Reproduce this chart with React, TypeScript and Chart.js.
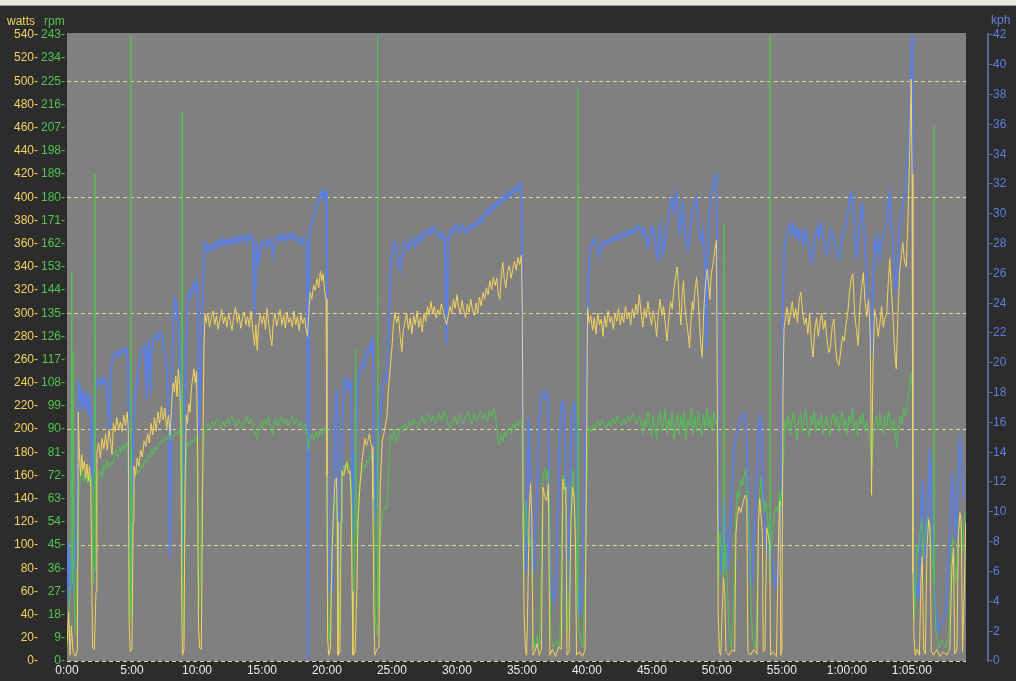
import React, { useEffect, useRef } from "react";
import { Chart, registerables } from "chart.js";

Chart.register(...registerables);

// [seconds, watts]
const WATTS: number[][] = [
  [0,15],[8,42],[14,5],[20,30],[28,8],[40,4],[48,10],[52,215],[56,185],[62,160],[68,178],[74,165],[80,172],[86,158],[92,170],[98,155],[104,168],[110,150],[115,60],[118,12],[126,10],[134,60],[138,180],[146,188],[154,175],[162,192],[170,183],[178,196],[186,182],[194,200],[202,188],[208,178],[214,205],[222,198],[230,210],[238,200],[246,206],[254,198],[262,212],[270,203],[278,215],[283,200],[287,30],[292,8],[300,10],[305,120],[309,168],[316,160],[324,175],[332,168],[340,182],[348,176],[356,190],[364,185],[372,196],[380,188],[388,205],[396,195],[404,210],[412,198],[420,215],[428,205],[436,220],[444,208],[452,218],[460,200],[468,212],[476,195],[484,225],[490,240],[496,232],[502,246],[508,228],[514,252],[520,238],[526,200],[530,40],[533,5],[540,10],[545,150],[550,212],[556,205],[562,222],[568,215],[574,235],[580,244],[586,252],[592,240],[598,250],[603,180],[607,30],[612,12],[620,10],[626,150],[632,270],[637,300],
  [642,292],[650,300],[658,288],[666,296],[674,302],[682,290],[690,298],[698,286],[706,295],[714,303],[722,291],[730,297],[738,288],[746,300],[754,293],[762,285],[770,298],[778,305],[786,292],[794,299],[802,287],[810,296],[818,301],[826,290],[834,297],[842,288],[850,302],[858,285],[866,272],[872,290],[878,268],[884,288],[892,300],[900,291],[908,298],[916,286],[924,304],[932,290],[940,278],[946,272],[952,292],[960,300],[968,289],[976,296],[984,303],[992,290],[1000,298],[1008,287],[1016,301],[1024,292],[1032,296],[1040,288],[1048,302],[1056,290],[1064,297],[1072,285],[1080,299],[1088,291],[1096,296],[1104,286],[1110,280],[1116,300],[1122,318],[1130,312],[1138,324],[1146,320],[1154,330],[1162,322],[1170,336],[1176,328],[1182,334],[1190,318],[1196,312],[1200,160],[1203,20],[1208,5],
  [1216,10],[1223,90],[1230,130],[1237,155],[1244,158],[1248,120],[1251,5],[1260,8],[1265,120],[1269,164],[1278,160],[1285,168],[1292,171],[1299,162],[1306,164],[1312,140],[1316,60],[1320,5],[1330,8],[1338,60],[1343,120],[1352,150],[1361,171],[1368,182],[1375,192],[1382,186],[1389,190],[1396,196],[1402,188],[1408,185],[1412,140],[1416,50],[1421,5],[1430,10],[1440,12],[1446,150],[1455,190],[1465,198],[1477,211],[1484,235],[1491,250],[1500,270],[1507,290],
  [1514,301],[1522,292],[1530,298],[1538,280],[1546,267],[1552,285],[1560,292],[1568,300],[1576,286],[1584,296],[1592,282],[1600,298],[1608,290],[1616,302],[1624,288],[1632,296],[1640,284],[1648,300],[1656,293],[1664,306],[1672,298],[1680,310],[1688,300],[1696,306],[1704,296],[1712,303],[1720,299],[1728,308],[1736,302],[1744,296],[1752,290],[1760,298],[1768,306],[1776,300],[1784,312],[1792,304],[1800,316],[1808,305],[1816,300],[1824,311],[1832,302],[1840,296],[1848,308],[1856,301],[1864,312],[1872,303],[1880,298],[1888,309],[1896,300],[1904,314],[1912,306],[1920,318],[1928,312],[1936,322],[1944,316],[1952,328],[1960,320],[1968,331],[1976,324],[1984,330],[1990,318],[1998,312],[2006,336],[2012,344],[2018,330],[2026,322],[2034,336],[2042,341],[2050,330],[2058,338],[2066,345],[2074,337],[2082,348],[2090,342],[2098,350],[2102,300],[2106,120],[2110,40],[2116,10],[2122,5],
  [2128,60],[2134,130],[2140,153],[2146,120],[2151,5],[2160,8],[2170,15],[2180,5],[2190,10],[2197,150],[2205,142],[2215,138],[2222,153],[2229,5],[2240,10],[2255,4],[2270,12],[2282,10],[2289,157],[2296,148],[2303,150],[2308,5],[2318,8],[2326,120],[2334,150],[2341,140],[2347,105],[2352,5],[2365,8],[2380,4],[2392,10],[2398,174],[2403,305],
  [2410,292],[2418,298],[2426,285],[2434,296],[2442,282],[2450,300],[2458,290],[2466,295],[2474,280],[2482,298],[2490,288],[2498,302],[2506,292],[2514,297],[2522,286],[2530,300],[2538,293],[2546,304],[2554,290],[2562,299],[2570,292],[2578,306],[2586,295],[2594,301],[2602,290],[2610,304],[2618,296],[2626,308],[2634,300],[2642,316],[2650,300],[2658,288],[2666,304],[2674,296],[2682,310],[2690,298],[2698,290],[2706,302],[2714,294],[2722,280],[2730,300],[2738,312],[2746,298],[2754,306],[2762,290],[2770,276],[2778,296],[2786,310],[2794,304],[2802,322],[2810,332],[2816,340],[2822,326],[2828,304],[2834,290],[2840,316],[2846,328],[2852,306],[2858,296],[2866,284],[2874,270],[2880,292],[2886,310],[2892,302],[2898,318],[2906,331],[2914,312],[2920,290],[2926,272],[2932,262],[2938,296],[2944,318],[2950,330],[2956,338],[2962,324],[2968,312],[2974,334],[2980,340],[2986,348],[2992,356],[2998,363],[3003,200],[3006,40],[3012,8],
  [3018,5],[3024,40],[3030,72],[3036,60],[3042,8],[3055,5],[3070,10],[3082,8],[3088,110],[3094,125],[3102,133],[3110,128],[3120,136],[3130,143],[3138,140],[3143,8],[3155,5],[3170,10],[3185,6],[3192,120],[3198,140],[3204,125],[3210,110],[3214,8],[3222,10],[3230,115],[3238,108],[3244,100],[3248,5],[3260,8],[3275,4],[3286,120],[3291,138],[3295,5],[3300,10],[3305,231],[3310,287],
  [3316,295],[3324,305],[3332,290],[3340,300],[3348,310],[3356,296],[3364,304],[3372,292],[3380,312],[3388,318],[3396,300],[3404,290],[3412,296],[3420,282],[3428,300],[3436,275],[3444,262],[3452,286],[3460,296],[3468,280],[3476,292],[3484,300],[3492,286],[3500,294],[3508,278],[3516,266],[3524,270],[3532,288],[3540,295],[3548,270],[3556,258],[3564,255],[3572,268],[3580,280],[3588,276],[3596,290],[3604,300],[3612,318],[3620,330],[3628,334],[3636,300],[3644,286],[3652,272],[3660,305],[3668,322],[3676,335],[3684,310],[3692,297],[3700,312],[3708,280],[3714,143],[3720,250],[3728,303],[3736,296],[3744,280],[3752,290],[3760,306],[3768,288],[3776,296],[3784,300],[3792,330],[3798,347],[3806,318],[3812,300],[3820,270],[3828,252],[3836,300],[3844,337],[3852,350],[3858,361],[3866,345],[3874,340],[3882,380],[3890,439],[3897,502],[3901,420],[3905,76],[3910,20],[3916,5],
  [3925,10],[3935,5],[3942,70],[3948,90],[3954,10],[3962,6],[3970,100],[3978,122],[3984,115],[3990,8],[4000,5],[4015,10],[4030,4],[4045,8],[4060,5],[4075,10],[4085,80],[4092,97],[4098,6],[4108,10],[4115,110],[4122,128],[4128,120],[4134,8],[4142,60],[4149,120],
];

// [seconds, rpm]
const RPM: number[][] = [
  [0,5],[10,20],[18,35],[22,151],[26,30],[29,120],[34,20],[40,10],[46,35],[52,40],[56,65],[62,72],[70,75],[78,70],[86,74],[94,69],[100,73],[108,68],[114,72],[118,40],[124,30],[129,189],[132,35],[138,70],[146,72],[154,74],[162,71],[170,76],[178,74],[186,78],[194,75],[202,77],[210,76],[218,80],[226,82],[234,79],[242,83],[250,81],[258,84],[266,82],[274,85],[282,83],[287,40],[292,15],[295,250],[297,20],[300,40],[305,65],[310,70],[318,72],[326,74],[334,73],[342,76],[350,75],[358,78],[366,77],[374,80],[382,79],[390,82],[398,80],[406,83],[414,82],[422,85],[430,84],[438,86],[446,85],[454,87],[462,86],[470,88],[478,86],[486,88],[494,87],[502,89],[510,88],[518,90],[526,86],[529,40],[531,213],[533,30],[538,10],[545,60],[552,82],[560,85],[568,84],[576,86],[584,85],[592,87],[600,86],[603,60],[607,20],[614,30],[622,60],[628,80],[634,88],[640,90],
  [650,92],[660,90],[670,93],[680,91],[690,94],[700,92],[710,90],[720,93],[730,91],[740,94],[750,92],[760,95],[770,93],[780,91],[790,94],[800,92],[810,90],[820,93],[830,95],[840,92],[850,94],[860,91],[870,88],[878,86],[886,91],[894,93],[902,90],[910,94],[920,92],[930,95],[940,90],[948,88],[956,92],[964,94],[972,91],[980,93],[990,95],[1000,92],[1010,94],[1020,91],[1030,93],[1040,95],[1050,92],[1060,94],[1070,91],[1080,93],[1090,90],[1100,92],[1108,88],[1114,82],[1120,86],[1130,88],[1140,86],[1150,89],[1160,87],[1170,90],[1180,88],[1190,91],[1198,88],[1202,40],[1206,10],
  [1212,8],[1220,30],[1228,52],[1236,60],[1244,64],[1250,20],[1256,10],[1264,50],[1270,72],[1278,76],[1286,74],[1294,78],[1302,75],[1310,72],[1318,55],[1322,15],[1328,40],[1332,121],[1336,60],[1340,40],[1346,62],[1352,70],[1360,73],[1368,76],[1376,75],[1384,78],[1392,77],[1400,80],[1408,78],[1416,70],[1420,40],[1424,15],[1432,10],[1434,250],[1436,20],[1440,40],[1450,52],[1460,58],[1470,60],[1477,59],[1485,75],[1493,88],[1500,86],[1510,90],[1520,85],[1530,88],
  [1540,91],[1550,89],[1560,92],[1570,90],[1580,93],[1590,91],[1600,94],[1610,92],[1620,90],[1630,93],[1640,95],[1650,92],[1660,94],[1670,96],[1680,93],[1690,95],[1700,92],[1710,94],[1720,96],[1730,93],[1740,97],[1750,95],[1760,92],[1770,90],[1780,93],[1790,95],[1800,92],[1810,96],[1820,94],[1830,92],[1840,95],[1850,97],[1860,94],[1870,92],[1880,96],[1890,93],[1900,95],[1910,97],[1920,94],[1930,96],[1940,93],[1950,97],[1960,95],[1970,98],[1980,94],[1988,86],[1996,84],[2004,88],[2012,85],[2020,89],[2028,87],[2036,90],[2044,91],[2052,88],[2060,92],[2068,90],[2076,93],[2084,91],[2092,94],[2100,92],[2104,60],[2108,30],
  [2112,55],[2118,62],[2124,50],[2132,45],[2140,48],[2146,42],[2152,8],[2160,5],[2170,10],[2180,6],[2190,40],[2197,72],[2205,75],[2213,70],[2221,74],[2228,60],[2232,10],[2245,5],[2260,8],[2275,5],[2284,50],[2290,72],[2298,70],[2305,55],[2310,10],[2320,30],[2328,66],[2336,74],[2344,60],[2350,45],[2356,20],[2358,222],[2360,15],[2370,8],[2382,5],[2392,30],[2398,66],[2404,80],[2410,91],
  [2420,89],[2430,92],[2440,90],[2450,93],[2460,91],[2470,94],[2480,92],[2490,90],[2500,93],[2510,91],[2520,94],[2530,92],[2540,95],[2550,93],[2560,91],[2570,94],[2580,92],[2590,95],[2600,93],[2610,96],[2620,94],[2630,92],[2640,95],[2650,93],[2658,88],[2666,94],[2674,91],[2682,97],[2690,92],[2698,87],[2706,95],[2714,90],[2722,86],[2730,94],[2738,97],[2746,89],[2754,93],[2762,98],[2770,88],[2778,94],[2786,90],[2794,97],[2802,86],[2810,93],[2818,96],[2826,88],[2834,95],[2842,90],[2850,97],[2858,86],[2866,94],[2874,91],[2882,98],[2890,88],[2898,95],[2906,89],[2914,97],[2922,92],[2930,87],[2938,96],[2946,90],[2954,98],[2962,91],[2970,95],[2978,89],[2986,97],[2994,92],[3000,94],[3004,60],[3008,30],
  [3014,50],[3020,45],[3026,40],[3030,30],[3032,170],[3034,35],[3040,45],[3048,30],[3056,10],[3066,5],[3078,20],[3086,55],[3094,66],[3102,63],[3110,70],[3118,68],[3126,72],[3134,75],[3140,65],[3146,52],[3152,44],[3158,20],[3166,8],[3178,5],[3188,30],[3194,60],[3202,71],[3210,65],[3218,58],[3226,62],[3234,55],[3240,50],[3244,30],[3245,250],[3246,40],[3252,45],[3262,55],[3272,60],[3282,58],[3290,66],[3296,60],[3302,70],[3308,78],[3314,93],
  [3322,90],[3330,95],[3338,88],[3346,93],[3354,97],[3362,90],[3370,86],[3378,94],[3386,96],[3394,89],[3402,93],[3410,98],[3418,91],[3426,87],[3434,95],[3442,92],[3450,97],[3458,89],[3466,94],[3474,91],[3482,96],[3490,88],[3498,93],[3506,95],[3514,90],[3522,87],[3530,94],[3538,96],[3546,91],[3554,95],[3562,89],[3570,93],[3578,97],[3586,90],[3594,94],[3602,88],[3610,95],[3618,92],[3626,98],[3634,90],[3642,93],[3650,87],[3658,95],[3666,92],[3674,96],[3682,89],[3690,93],[3698,90],[3706,86],[3712,80],[3715,75],[3720,84],[3728,92],[3736,95],[3744,90],[3752,96],[3760,92],[3768,88],[3776,95],[3784,91],[3792,97],[3800,93],[3808,89],[3816,94],[3824,88],[3830,83],[3838,90],[3846,95],[3854,92],[3862,98],[3870,95],[3878,100],[3886,105],[3894,110],[3900,112],[3904,90],[3908,40],[3912,15],
  [3918,30],[3924,45],[3930,42],[3938,50],[3946,55],[3952,40],[3958,48],[3966,52],[3974,56],[3982,50],[3990,45],[3996,38],[4000,30],[4002,208],[4004,25],[4012,10],[4025,5],[4040,8],[4055,5],[4070,10],[4080,35],[4088,48],[4096,40],[4104,30],[4112,45],[4120,55],[4128,50],[4136,42],[4142,55],[4149,58],
];

// [seconds, kph]
const KPH: number[][] = [
  [0,4],[5,8],[10,6],[15,4.5],[20,7],[26,5],[32,8],[38,6],[44,10],[50,15],[54,18.8],[58,17.5],[64,18.4],[70,16.8],[76,17.9],[82,17.0],[88,18.2],[94,17.2],[100,16.5],[106,17.8],[112,15.0],[116,11.4],[122,14],[128,17.6],[134,18.6],[142,18.9],[150,18.5],[158,18.8],[166,19.0],[172,18.6],[178,18.9],[184,18.4],[190,17.0],[196,15.5],[200,18.5],[206,19.8],[212,20.5],[220,20.4],[228,20.7],[236,20.5],[244,20.8],[252,20.6],[260,20.9],[268,20.7],[276,20.9],[282,20.0],[287,10],[292,5.6],[298,8],[305,15],[312,17.4],[320,18.5],[328,19.4],[336,20.2],[344,20.7],[352,20.9],[358,21.2],[364,19.0],[368,17.5],[372,20.8],[380,21.3],[386,18.0],[390,20.5],[398,21.5],[406,21.8],[414,21.9],[422,21.6],[430,22.0],[438,21.8],[446,21.0],[454,20.4],[462,19.5],[470,15.0],[475,7.0],[480,12],[486,20],[492,23.5],[498,24.3],[504,24.0],[510,23.2],[518,22.0],[526,18],[531,6],[536,9],[542,15],[550,21],[556,24],[562,24.6],[568,24.8],[574,24.5],[580,25.0],[586,25.3],[592,24.9],[598,25.5],[604,24.8],[608,15],[612,17],[620,20],[626,24],[632,27],[637,28.1],
  [642,28.0],[650,27.6],[658,27.8],[666,27.5],[674,27.9],[682,27.7],[690,28.1],[698,27.8],[706,28.2],[714,27.9],[722,28.3],[730,28.0],[738,28.2],[746,27.9],[754,28.4],[762,28.1],[770,28.3],[778,28.0],[786,28.4],[794,28.2],[802,28.5],[810,28.2],[818,28.4],[826,28.1],[834,28.5],[842,28.3],[850,28.6],[856,28.4],[860,26.5],[864,23.4],[868,25.0],[872,28.2],[878,27.6],[884,26.7],[890,27.2],[896,27.9],[904,28.1],[912,27.8],[920,28.2],[928,28.0],[936,28.3],[944,27.9],[950,27.2],[956,27.8],[964,28.3],[972,28.5],[980,28.2],[988,28.6],[996,28.3],[1004,28.5],[1012,28.2],[1020,28.6],[1028,28.4],[1036,28.7],[1044,28.3],[1052,28.6],[1060,28.4],[1068,28.1],[1076,28.3],[1084,28.0],[1092,28.4],[1100,28.2],[1106,28.0],[1110,20],[1112,0],[1115,10],[1119,28.6],[1126,29.0],[1134,29.5],[1142,30.0],[1150,30.4],[1158,30.8],[1166,31.1],[1174,31.4],[1180,31.0],[1186,31.5],[1192,31.2],[1197,31.4],[1200,25],[1203,12.2],
  [1208,6],[1216,4.3],[1224,5],[1230,10],[1238,16],[1244,18.2],[1248,17],[1252,8],[1258,5.4],[1264,10],[1272,16],[1280,18.8],[1288,18.4],[1296,18.9],[1304,18.2],[1312,18.6],[1316,14],[1320,8.1],[1326,10],[1334,15],[1343,18.8],[1350,19.2],[1358,19.6],[1366,20.1],[1374,19.8],[1382,20.6],[1390,21.0],[1398,20.7],[1406,21.5],[1412,21.6],[1416,16],[1421,9.5],[1428,12],[1436,15],[1445,16.3],[1455,18],[1465,19],[1477,18.8],[1484,22],[1490,24.5],[1496,26.5],[1502,27.6],[1510,28.0],[1516,28.1],[1522,27.5],[1530,26.6],[1538,26.2],[1544,26.8],[1552,27.7],[1560,28.1],[1568,28.0],[1576,27.6],[1584,27.9],[1592,28.4],[1600,28.1],[1608,27.8],[1616,28.2],[1624,28.5],[1632,28.1],[1640,28.6],[1648,28.8],[1656,28.5],[1664,28.9],[1672,29.0],[1680,28.7],[1688,29.1],[1696,28.8],[1704,28.9],[1712,28.6],[1720,28.4],[1728,28.7],[1736,28.3],[1744,28.5],[1748,25],[1752,21.3],[1756,24],[1760,28.4],[1768,28.8],[1776,29.0],[1784,28.7],[1792,29.1],[1800,29.3],[1808,29.0],[1816,28.8],[1824,29.2],[1832,29.0],[1840,28.7],[1848,28.9],[1856,29.2],[1864,29.0],[1872,29.3],[1880,29.1],[1888,29.4],[1896,29.6],[1904,29.3],[1912,29.7],[1920,29.5],[1928,29.9],[1936,30.2],[1944,30.0],[1952,30.4],[1960,30.2],[1968,30.6],[1976,30.4],[1984,30.8],[1992,30.6],[2000,31.0],[2008,30.8],[2016,31.2],[2024,31.0],[2032,31.4],[2040,31.1],[2048,31.5],[2056,31.3],[2064,31.7],[2072,31.5],[2080,31.9],[2088,31.7],[2094,32.0],[2098,31.6],[2102,25],[2106,10],
  [2110,6.7],[2118,5.9],[2124,10],[2130,16.3],[2136,14],[2142,9],[2148,6.8],[2156,6],[2164,9],[2172,13],[2180,16],[2188,17.7],[2196,18.0],[2204,18.2],[2212,17.6],[2220,17.8],[2226,12],[2232,6],[2240,4.5],[2250,4],[2258,5.5],[2266,10],[2274,15],[2282,17.2],[2290,17.4],[2298,16.5],[2304,10],[2310,4.3],[2318,8],[2326,14],[2334,17.0],[2342,17.3],[2348,16],[2354,12],[2360,6],[2368,3],[2376,4],[2384,8],[2392,14],[2398,20],[2402,23.1],[2408,26],[2414,27.6],
  [2420,27.8],[2428,28.2],[2436,28.3],[2444,28.0],[2452,27.7],[2458,27.2],[2464,27.8],[2472,28.1],[2480,27.9],[2488,28.2],[2496,28.0],[2504,28.3],[2512,28.1],[2520,28.4],[2528,28.2],[2536,28.5],[2544,28.3],[2552,28.6],[2560,28.4],[2568,28.7],[2576,28.5],[2584,28.8],[2592,28.6],[2600,28.9],[2608,28.7],[2616,29.0],[2624,28.8],[2632,29.1],[2640,29.2],[2648,28.9],[2656,28.6],[2664,29.0],[2672,28.4],[2680,27.8],[2688,28.3],[2696,28.9],[2704,29.1],[2712,28.6],[2720,27.5],[2726,27.0],[2732,28.3],[2740,29.2],[2746,28.4],[2752,27.3],[2760,28.0],[2768,29.0],[2776,29.8],[2784,30.5],[2792,31.0],[2800,30.2],[2808,31.0],[2815,31.4],[2822,29.8],[2830,28.5],[2836,29.5],[2842,30.8],[2850,29.4],[2858,28.2],[2866,27.6],[2874,28.3],[2882,29.6],[2890,30.5],[2898,30.8],[2906,31.1],[2912,30.0],[2920,28.5],[2928,28.2],[2936,28.8],[2944,27.0],[2950,21.0],[2956,25.0],[2962,29.5],[2968,30.6],[2974,31.2],[2980,31.8],[2988,32.3],[2994,32.6],[2998,32.7],[3002,26],[3006,12.2],
  [3012,8],[3020,5.9],[3026,8],[3034,11],[3040,9],[3046,6],[3054,7],[3062,9],[3070,12],[3080,14.2],[3090,15.2],[3100,15.8],[3110,16.2],[3120,16.6],[3130,16.4],[3138,15],[3146,10],[3152,6],[3160,5],[3168,7],[3176,10],[3184,13],[3192,15.5],[3200,16.6],[3206,15],[3212,12],[3218,10],[3226,8.1],[3234,7],[3242,9],[3250,8],[3260,6],[3270,5],[3280,6],[3290,7],[3298,12],[3305,24.5],[3312,27.8],
  [3320,28.4],[3328,28.9],[3336,29.3],[3344,28.8],[3352,29.2],[3360,28.5],[3368,29.0],[3376,28.3],[3384,28.8],[3392,28.6],[3400,28.0],[3408,28.9],[3416,28.4],[3424,27.8],[3432,27.3],[3440,26.8],[3448,27.5],[3456,28.6],[3464,29.1],[3472,28.5],[3480,29.3],[3488,28.8],[3496,28.0],[3504,27.5],[3512,27.3],[3520,28.4],[3528,28.9],[3536,28.6],[3544,28.0],[3552,27.4],[3560,27.0],[3568,27.2],[3576,28.3],[3584,28.9],[3592,29.0],[3600,29.6],[3608,30.5],[3616,31.2],[3624,31.4],[3632,30.0],[3640,28.0],[3646,27.0],[3652,28.4],[3660,29.3],[3666,30.2],[3672,30.6],[3680,28.8],[3686,27.0],[3692,25.9],[3700,24.0],[3708,22.0],[3714,20.4],[3720,24.5],[3728,28.1],[3736,27.6],[3744,28.4],[3752,27.0],[3760,27.8],[3768,28.6],[3776,28.9],[3784,29.6],[3792,30.8],[3798,31.4],[3806,29.5],[3812,28.1],[3820,26.0],[3826,24.8],[3832,25.5],[3840,28.4],[3846,29.3],[3854,30.2],[3860,30.6],[3868,31.6],[3876,32.5],[3884,34.5],[3890,36.8],[3896,39.5],[3900,41.5],[3903,43],[3906,20],[3910,5.9],
  [3916,4.5],[3924,5],[3932,4.1],[3940,8],[3946,11],[3951,12.2],[3958,9],[3964,6.7],[3970,8],[3976,11],[3983,14.2],[3990,11],[3997,8.1],[4004,5],[4012,3],[4022,2],[4035,2.5],[4048,3],[4060,4],[4070,7],[4080,10],[4089,12.7],[4096,10.5],[4102,8.1],[4110,10],[4116,13],[4121,15.2],[4128,13.5],[4135,12.2],[4142,11],[4149,10.8],
];

const X_MAX_SECONDS = 4150;
const X_TICK_STEP = 300;
const WATTS_MAX = 540;
const WATTS_STEP = 20;
const RPM_MAX = 243;
const RPM_STEP = 9;
const KPH_MAX = 42;
const KPH_STEP = 2;

const W = 1016;
const H = 681;

const YELLOW = "#f4d35e";
const GREEN = "#52c452";
const BLUE = "#5c7fe2";
const GRID = "#e4d99a";
const FONT = '"Liberation Sans", Arial, sans-serif';

function fmtTime(sec: number): string {
  const h = Math.floor(sec / 3600);
  const m = Math.floor((sec % 3600) / 60);
  const s = Math.round(sec % 60);
  const ss = String(s).padStart(2, "0");
  if (h > 0) return `${h}:${String(m).padStart(2, "0")}:${ss}`;
  return `${m}:${ss}`;
}

const toXY = (arr: number[][]) => arr.map(([x, y]) => ({ x, y }));

const xTickValues: number[] = [];
for (let v = 0; v < X_MAX_SECONDS; v += X_TICK_STEP) xTickValues.push(v);

const decorPlugin = {
  id: "decor",
  beforeDraw(chart: any) {
    const { ctx, chartArea, width, height } = chart;
    ctx.save();
    ctx.fillStyle = "#2c2c2c";
    ctx.fillRect(0, 0, width, height);
    ctx.fillStyle = "#ebeae2";
    ctx.fillRect(0, 0, width, 5);
    ctx.fillStyle = "#9c9c98";
    ctx.fillRect(0, 5, width, 1);
    ctx.fillStyle = "#808080";
    ctx.fillRect(chartArea.left, chartArea.top - 2, chartArea.right - chartArea.left, chartArea.bottom - chartArea.top + 2);
    ctx.restore();
  },
  afterDraw(chart: any) {
    const { ctx, chartArea } = chart;
    ctx.save();
    ctx.font = `12px ${FONT}`;
    ctx.textBaseline = "middle";
    ctx.textAlign = "left";
    ctx.fillStyle = YELLOW;
    ctx.fillText("watts", 7, 22);
    ctx.fillStyle = GREEN;
    ctx.fillText("rpm", 44, 22);
    ctx.fillStyle = BLUE;
    ctx.fillText("kph", 991, 21);
    ctx.strokeStyle = "#6a78bc";
    ctx.lineWidth = 1.5;
    ctx.beginPath();
    ctx.moveTo(988, chartArea.top - 2);
    ctx.lineTo(988, chartArea.bottom + 1);
    ctx.stroke();
    ctx.restore();
  },
};

export default function App() {
  const ref = useRef<HTMLCanvasElement | null>(null);

  useEffect(() => {
    if (!ref.current) return;
    const chart = new Chart(ref.current, {
      type: "line",
      data: {
        datasets: [
          {
            label: "watts",
            data: toXY(WATTS),
            yAxisID: "yW",
            borderColor: YELLOW,
            borderWidth: 1,
            pointRadius: 0,
            tension: 0,
          },
          {
            label: "rpm",
            data: toXY(RPM),
            yAxisID: "yR",
            borderColor: GREEN,
            borderWidth: 1,
            pointRadius: 0,
            tension: 0,
          },
          {
            label: "kph",
            data: toXY(KPH),
            yAxisID: "yK",
            borderColor: BLUE,
            borderWidth: 2,
            pointRadius: 0,
            tension: 0,
          },
        ],
      },
      options: {
        animation: false,
        responsive: false,
        devicePixelRatio: 1,
        layout: { padding: { top: 35, left: 0, right: 0, bottom: 0 } },
        plugins: { legend: { display: false }, tooltip: { enabled: false } },
        scales: {
          x: {
            type: "linear",
            min: 0,
            max: X_MAX_SECONDS,
            grid: { display: false, drawTicks: false },
            border: { display: false },
            ticks: {
              color: "#ececec",
              font: { size: 12, family: FONT },
              padding: 2,
              maxRotation: 0,
              autoSkip: false,
              callback: (v: any) => fmtTime(Number(v)),
            },
            afterBuildTicks: (scale: any) => {
              scale.ticks = xTickValues.map((value) => ({ value }));
            },
            afterFit: (scale: any) => {
              scale.height = 20;
            },
          },
          yW: {
            position: "left",
            weight: 1,
            min: 0,
            max: WATTS_MAX,
            grid: {
              drawTicks: false,
              lineWidth: 1,
              color: (c: any) => (c.tick && c.tick.value % 100 === 0 ? GRID : "rgba(0,0,0,0)"),
            },
            border: { display: false, dash: [4, 3] },
            ticks: {
              stepSize: WATTS_STEP,
              autoSkip: false,
              color: YELLOW,
              font: { size: 12, family: FONT },
              padding: 2,
              callback: (v: any) => `${v}-`,
            },
            afterFit: (scale: any) => {
              scale.width = 40;
            },
          },
          yR: {
            position: "left",
            weight: 0,
            min: 0,
            max: RPM_MAX,
            grid: { drawOnChartArea: false, drawTicks: false },
            border: { display: false },
            ticks: {
              stepSize: RPM_STEP,
              autoSkip: false,
              color: GREEN,
              font: { size: 12, family: FONT },
              padding: 2,
              callback: (v: any) => `${v}-`,
            },
            afterFit: (scale: any) => {
              scale.width = 27;
            },
          },
          yK: {
            position: "right",
            min: 0,
            max: KPH_MAX,
            grid: { drawOnChartArea: false, drawTicks: true, tickLength: 22, color: "rgba(0,0,0,0)" },
            border: { display: false },
            ticks: {
              stepSize: KPH_STEP,
              autoSkip: false,
              color: BLUE,
              font: { size: 12, family: FONT },
              padding: 1,
              callback: (v: any) => `-${v}`,
            },
            afterFit: (scale: any) => {
              scale.width = 50;
            },
          },
        },
      } as any,
      plugins: [decorPlugin],
    });
    return () => chart.destroy();
  }, []);

  return (
    <div style={{ position: "fixed", left: 0, top: 0, width: W, height: H, background: "#2c2c2c" }}>
      <canvas ref={ref} width={W} height={H} style={{ display: "block", width: W, height: H }} />
    </div>
  );
}
